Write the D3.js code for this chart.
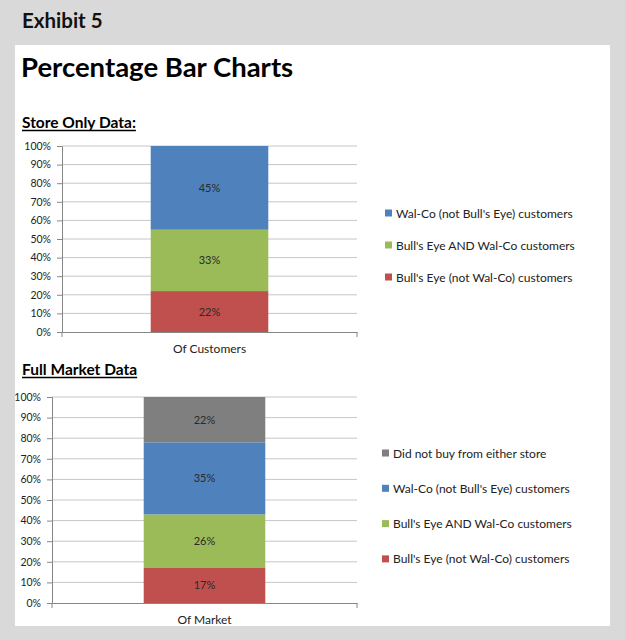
<!DOCTYPE html>
<html>
<head>
<meta charset="utf-8">
<script src="https://cdn.jsdelivr.net/npm/d3@7"></script>
<style>
  body { margin: 0; background: #d9d9d9; }
  svg { display: block; font-family: Lato, "Open Sans", sans-serif; }
</style>
</head>
<body>
<svg id="chart" width="625" height="640"></svg>
<script>
// --- Data ---
const yTicks = [0, 10, 20, 30, 40, 50, 60, 70, 80, 90, 100];

const storeCategory = ["Of Customers"];
const storeSeries = ["Bull's Eye (not Wal-Co) customers", "Bull's Eye AND Wal-Co customers", "Wal-Co (not Bull's Eye) customers"];
const storeValues = [22, 33, 45];

const marketCategory = ["Of Market"];
const marketSeries = ["Bull's Eye (not Wal-Co) customers", "Bull's Eye AND Wal-Co customers", "Wal-Co (not Bull's Eye) customers", "Did not buy from either store"];
const marketValues = [17, 26, 35, 22];

const seriesColors = {
    "Bull's Eye (not Wal-Co) customers": "#c0504d",
    "Bull's Eye AND Wal-Co customers": "#9bbb59",
    "Wal-Co (not Bull's Eye) customers": "#4f81bd",
    "Did not buy from either store": "#7f7f7f"
};

const svg = d3.select("#chart");

// --- Page frame ---
svg.append("rect").attr("x", 0).attr("y", 0).attr("width", 625).attr("height", 640).attr("fill", "#d9d9d9");
svg.append("rect").attr("x", 15).attr("y", 45).attr("width", 595).attr("height", 581).attr("fill", "#fff");

svg.append("text").attr("x", 22).attr("y", 28)
    .attr("font-size", 20.5).attr("font-weight", "bold").attr("fill", "#111")
    .text("Exhibit 5");

svg.append("text").attr("x", 21).attr("y", 77)
    .attr("font-size", 27.5).attr("font-weight", "bold").attr("fill", "#000")
    .text("Percentage Bar Charts");

function sectionTitle(label, y) {
    const t = svg.append("text").attr("x", 22).attr("y", y)
        .attr("font-size", 15.5).attr("font-weight", "bold").attr("fill", "#000")
        .text(label);
    const w = t.node().getComputedTextLength();
    svg.append("line").attr("x1", 22).attr("x2", 22 + w)
        .attr("y1", y + 2.5).attr("y2", y + 2.5)
        .attr("stroke", "#000").attr("stroke-width", 1.5);
}

// --- One stacked percentage bar chart ---
function drawChart(opts) {
    const { category, series, values, left, right, top, bottom, legendX, legendY, legendGap } = opts;

    const x = d3.scaleBand().domain(category).range([left, right]).padding(0.43);
    const y = d3.scaleLinear().domain([0, 100]).range([bottom, top]);

    const g = svg.append("g");

    // gridlines
    g.selectAll(".grid")
        .data(yTicks.slice(1))
        .join("line")
        .attr("x1", left).attr("x2", right)
        .attr("y1", d => y(d)).attr("y2", d => y(d))
        .attr("stroke", "#c6c6c6").attr("stroke-width", 1);

    // stacked segments
    let acc = 0;
    const segs = series.map((s, i) => {
        const seg = { name: s, y0: acc, y1: acc + values[i], v: values[i] };
        acc += values[i];
        return seg;
    });

    g.selectAll(".seg")
        .data(segs)
        .join("rect")
        .attr("x", x(category[0]))
        .attr("width", x.bandwidth())
        .attr("y", d => y(d.y1))
        .attr("height", d => y(d.y0) - y(d.y1))
        .attr("fill", d => seriesColors[d.name]);

    g.selectAll(".lbl")
        .data(segs)
        .join("text")
        .attr("x", x(category[0]) + x.bandwidth() / 2)
        .attr("y", d => (y(d.y0) + y(d.y1)) / 2 + 4)
        .attr("text-anchor", "middle")
        .attr("font-size", 11)
        .attr("fill", "#2a2a2a")
        .text(d => d.v + "%");

    // y axis
    const yAxis = g.append("g")
        .attr("transform", `translate(${left},0)`)
        .call(d3.axisLeft(y).tickValues(yTicks).tickSize(5).tickPadding(6).tickFormat(d => d + "%"));
    yAxis.select(".domain").attr("stroke", "#868686");
    yAxis.selectAll(".tick line").attr("stroke", "#868686");
    yAxis.selectAll("text").attr("font-size", 10.5).attr("fill", "#222").attr("font-family", "Lato, sans-serif");

    // category axis
    const xAxis = g.append("g")
        .attr("transform", `translate(0,${bottom})`)
        .call(d3.axisBottom(x).tickSize(0).tickPadding(12));
    xAxis.select(".domain").attr("stroke", "#868686");
    xAxis.selectAll("text").attr("font-size", 12).attr("fill", "#222").attr("font-family", "Lato, sans-serif");
    xAxis.selectAll(".edge")
        .data(x.range())
        .join("line")
        .attr("x1", d => d).attr("x2", d => d)
        .attr("y1", 0).attr("y2", 5)
        .attr("stroke", "#868686");

    // legend (top-most series first)
    const legendItems = series.slice().reverse();
    const lg = g.selectAll(".legend")
        .data(legendItems)
        .join("g")
        .attr("transform", (d, i) => `translate(${legendX},${legendY + i * legendGap})`);
    lg.append("rect")
        .attr("x", 0).attr("y", -3.5)
        .attr("width", 7).attr("height", 7)
        .attr("fill", d => seriesColors[d]);
    lg.append("text")
        .attr("x", 11).attr("y", 4.5)
        .attr("font-size", 12)
        .attr("fill", "#222")
        .text(d => d);
}

sectionTitle("Store Only Data:", 128);
drawChart({
    category: storeCategory, series: storeSeries, values: storeValues,
    left: 62, right: 357, top: 146, bottom: 332,
    legendX: 385, legendY: 213, legendGap: 32
});

sectionTitle("Full Market Data", 375);
drawChart({
    category: marketCategory, series: marketSeries, values: marketValues,
    left: 52, right: 357, top: 397, bottom: 603,
    legendX: 382, legendY: 453, legendGap: 35.3
});
</script>
</body>
</html>
